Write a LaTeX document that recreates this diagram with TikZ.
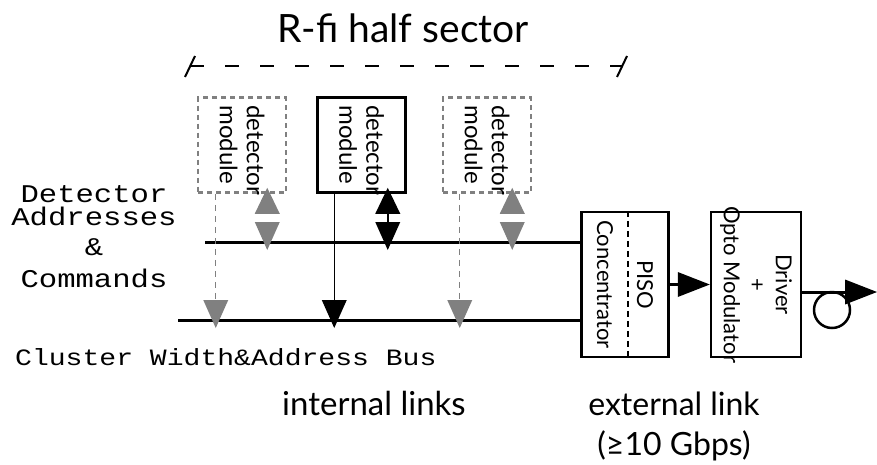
\documentclass[tikz,border=0pt]{standalone}
\usepackage{fontspec}
\setmainfont{Lato}
\newfontfamily\courierfont[FakeStretch=1.2]{Liberation Mono}
\usetikzlibrary{arrows.meta, positioning, calc}

\newcommand{\boxfont}{\fontsize{24}{27}\selectfont}
\newcommand{\unitfont}{\fontsize{22}{26}\selectfont}
\newcommand{\codefont}{\courierfont\fontsize{25.5}{23}\selectfont}
\newcommand{\busfont}{\courierfont\fontsize{23.4}{28}\selectfont}

\tikzset{
  modbox/.style={rectangle, draw=black, line width=2.5pt, minimum width=88pt, minimum height=95pt},
  ghostbox/.style={modbox, draw=gray, dash pattern=on 5pt off 4pt},
  modtext/.style={rotate=-90, anchor=west, align=left, inner sep=0pt, font=\boxfont},
  unit/.style={rectangle, draw=black, line width=2.5pt, minimum width=87pt, minimum height=145pt},
  unittext/.style={rotate=-90, align=center, inner sep=0pt, font=\unitfont},
  bus/.style={line width=3pt},
  feed/.style={line width=1.2pt, -{Triangle[width=25pt, length=28pt, line width=0pt]}},
  ghostfeed/.style={feed, gray, dash pattern=on 6pt off 5pt},
  bidir/.style={line width=2pt, {Triangle[width=25pt, length=26pt, line width=0pt]}-{Triangle[width=25pt, length=28pt, line width=0pt]}},
  ghostbidir/.style={draw=white, line width=2pt, {Triangle[width=25pt, length=26pt, line width=0pt, color=gray]}-{Triangle[width=25pt, length=28pt, line width=0pt, color=gray]}},
  bigarrow/.style={line width=3pt, -{Triangle[width=25pt, length=32pt, line width=0pt]}},
}

\begin{document}
\begin{tikzpicture}[x=1pt, y=-1pt]
\useasboundingbox (0,0) rectangle (877,464);

% sector bracket
\node[font=\fontsize{39}{44}\selectfont, anchor=base] (title) at (403,42) {R-fi half sector};
\coordinate (secL) at (190,66);
\coordinate (secR) at (622,66);
\draw[line width=2pt, dash pattern=on 14pt off 21pt] (secL) -- (secR);
\draw[line width=2pt] ($(secL)+(-5,11)$) -- ($(secL)+(5,-10)$);
\draw[line width=2pt] ($(secR)+(-5,11)$) -- ($(secR)+(5,-10)$);

% detector modules
\node[ghostbox] (det1) at (242,145) {};
\node[modbox, right=29pt of det1] (det2) {};
\node[ghostbox, right=35pt of det2] (det3) {};
\node[modtext] (det1txt) at ($(det1.north)+(0,9)$) {detector\\module};
\node[modtext] (det2txt) at ($(det2.north)+(0,9)$) {detector\\module};
\node[modtext] (det3txt) at ($(det3.north)+(0,9)$) {detector\\module};

% concentrator and modulator
\node[unit] (conc) at (625,284.5) {};
\node[unittext] (conctxt) at (conc) {PISO\\[14pt]Concentrator};
\draw[line width=2.5pt, dash pattern=on 6pt off 4pt] ($(conc.north)+(3,0)$) -- ($(conc.south)+(3,0)$);
\node[unit, minimum width=90pt, right=40pt of conc] (opto) {};
\node[unittext] (optotxt) at (opto) {Driver\\+\\Opto Modulator};

% buses
\coordinate (topbus) at (205,242);
\coordinate (botbus) at (178,320);
\draw[bus] (topbus) -- (topbus -| conc.west);
\draw[bus] (botbus) -- (botbus -| conc.west);

% module links
\draw[ghostbidir] ($(det1.south east)+(-20,-6)$) coordinate (b1) -- ($(b1 |- topbus)+(0,8)$);
\draw[bidir] ($(det2.south east)+(-19,-6)$) coordinate (b2) -- ($(b2 |- topbus)+(0,8)$);
\draw[ghostbidir] ($(det3.south east)+(-20,-6)$) coordinate (b3) -- ($(b3 |- topbus)+(0,8)$);
\draw[ghostfeed] ($(det1.south west)+(19,0)$) coordinate (f1) -- ($(f1 |- botbus)+(0,8)$);
\draw[feed] ($(det2.south west)+(18,0)$) coordinate (f2) -- ($(f2 |- botbus)+(0,8)$);
\draw[ghostfeed] ($(det3.south west)+(18,0)$) coordinate (f3) -- ($(f3 |- botbus)+(0,8)$);

% external link
\draw[bigarrow] (conc.east) -- (opto.west);
\coordinate (fibreout) at (877,292);
\draw[bigarrow] (opto.east |- fibreout) -- (fibreout);
\node[circle, draw, line width=2.5pt, minimum size=36pt, inner sep=0pt] (loop) at (832,310) {};

% labels
\node[font=\codefont, align=center] (cmdlabel) at (94,237) {Detector\\Addresses\\[7pt]\&\\[9pt]Commands};
\node[font=\busfont, anchor=base west, inner sep=0pt] (buslabel) at (15,365) {Cluster Width\&Address Bus};
\node[font=\fontsize{33}{40}\selectfont, anchor=base] (intlabel) at (374,415) {internal links};
\node[font=\fontsize{32}{40}\selectfont, align=center] (extlabel) at (674,426) {external link\\(≥10 Gbps)};
\end{tikzpicture}
\end{document}
